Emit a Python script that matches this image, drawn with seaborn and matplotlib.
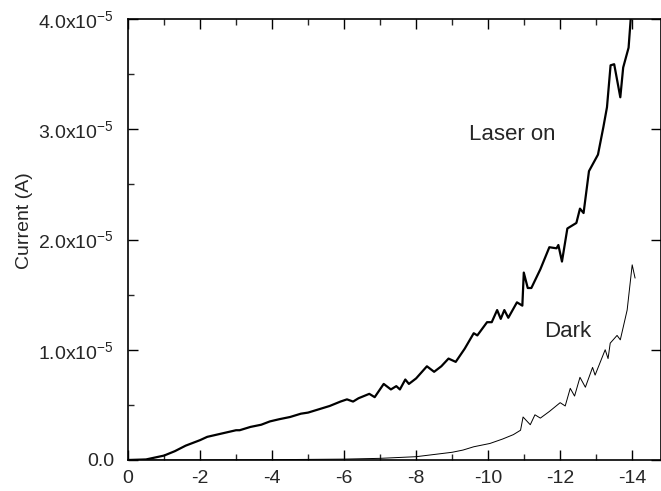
import matplotlib
matplotlib.use("Agg")
import matplotlib.pyplot as plt
import seaborn as sns
import pandas as pd
from matplotlib.ticker import MultipleLocator, FixedLocator

sns.set_style("ticks")
plt.rcParams['font.family'] = ['Liberation Sans', 'DejaVu Sans']
plt.rcParams['mathtext.fontset'] = 'custom'
plt.rcParams['mathtext.rm'] = 'Liberation Sans'
plt.rcParams['mathtext.it'] = 'Liberation Sans'
plt.rcParams['axes.unicode_minus'] = False

# Laser on (voltage V, current in units of 1e-5 A)
laser_v = [0, -0.5, -1.0, -1.3, -1.6, -2.0, -2.2, -2.6, -3.0, -3.1, -3.4, -3.7, -3.94, -4.2,
           -4.5, -4.8, -5.0, -5.3, -5.6, -5.9, -6.08, -6.25, -6.4, -6.7, -6.85, -7.1, -7.3,
           -7.45, -7.55, -7.7, -7.8, -8.0, -8.3, -8.5, -8.7, -8.9, -9.1, -9.35, -9.6, -9.7,
           -9.97, -10.1, -10.25, -10.35, -10.45, -10.56, -10.8, -10.95, -10.99, -11.1, -11.2,
           -11.45, -11.7, -11.9, -11.95, -12.05, -12.2, -12.45, -12.55, -12.65, -12.8, -13.05,
           -13.2, -13.3, -13.4, -13.5, -13.67, -13.75, -13.9, -13.97]
laser_i = [0, 0.005, 0.04, 0.08, 0.13, 0.18, 0.21, 0.24, 0.27, 0.27, 0.30, 0.32, 0.35, 0.37,
           0.39, 0.42, 0.43, 0.46, 0.49, 0.53, 0.55, 0.53, 0.56, 0.60, 0.57, 0.69, 0.64,
           0.67, 0.64, 0.73, 0.69, 0.74, 0.85, 0.80, 0.85, 0.92, 0.89, 1.01, 1.15, 1.13,
           1.25, 1.25, 1.36, 1.28, 1.36, 1.29, 1.43, 1.40, 1.70, 1.56, 1.56,
           1.73, 1.93, 1.92, 1.95, 1.80, 2.10, 2.15, 2.28, 2.24, 2.62, 2.77,
           3.02, 3.20, 3.58, 3.59, 3.29, 3.56, 3.74, 4.05]

# Dark
dark_v = [0, -2, -4, -6, -7, -8, -8.5, -9, -9.3, -9.6, -10.05, -10.4, -10.7, -10.9, -10.97,
          -11.17, -11.3, -11.45, -11.7, -12.0, -12.14, -12.28, -12.4, -12.55, -12.7, -12.9,
          -12.97, -13.25, -13.33, -13.39, -13.58, -13.67, -13.86, -14.0, -14.08]
dark_i = [0, 0, 0.003, 0.008, 0.015, 0.03, 0.05, 0.07, 0.09, 0.12, 0.15, 0.19, 0.23, 0.27, 0.39,
          0.32, 0.41, 0.38, 0.44, 0.52, 0.49, 0.65, 0.58, 0.75, 0.66, 0.84,
          0.77, 1.00, 0.92, 1.06, 1.13, 1.09, 1.36, 1.77, 1.65]

x_ticks = [0, -2, -4, -6, -8, -10, -12, -14]
x_ticklabels = ["0", "-2", "-4", "-6", "-8", "-10", "-12", "-14"]
y_ticks = [0, 1e-5, 2e-5, 3e-5, 4e-5]
y_ticklabels = ["0.0", r"1.0x10$^{-5}$", r"2.0x10$^{-5}$", r"3.0x10$^{-5}$", r"4.0x10$^{-5}$"]

df_laser = pd.DataFrame({"V": laser_v, "I": [v * 1e-5 for v in laser_i]})
df_dark = pd.DataFrame({"V": dark_v, "I": [v * 1e-5 for v in dark_i]})

fig = plt.figure(figsize=(6.61, 4.91), dpi=100)
ax = fig.add_axes([128 / 661, 31 / 491, 1 - 128 / 661, 441 / 491])

sns.lineplot(data=df_laser, x="V", y="I", ax=ax, color="black", linewidth=1.6, sort=False)
sns.lineplot(data=df_dark, x="V", y="I", ax=ax, color="black", linewidth=0.7, sort=False)

ax.set_xlim(0, -14.8)
ax.set_ylim(0, 4e-5)
ax.xaxis.set_major_locator(FixedLocator(x_ticks))
ax.set_xticklabels(x_ticklabels)
ax.xaxis.set_minor_locator(MultipleLocator(1))
ax.yaxis.set_major_locator(FixedLocator(y_ticks))
ax.set_yticklabels(y_ticklabels)
ax.yaxis.set_minor_locator(MultipleLocator(0.5e-5))

ax.tick_params(which='major', direction='in', length=7, width=1, top=True, right=True,
               labelsize=14, color='black')
ax.tick_params(which='minor', direction='in', length=4, width=1, top=True, right=False)
ax.tick_params(axis='y', which='major', pad=10)
ax.tick_params(axis='x', which='major', pad=7)

for s in ax.spines.values():
    s.set_linewidth(1.2)
    s.set_color('black')

ax.set_xlabel("")
ax.set_ylabel("Current (A)", fontsize=14, labelpad=2)
ax.yaxis.set_label_coords(-0.178, 0.542)

ax.text(-10.67, 2.95e-5, "Laser on", fontsize=16, ha='center', va='center')
ax.text(-12.2, 1.17e-5, "Dark", fontsize=16, ha='center', va='center')

fig.savefig("out.png", dpi=100)
